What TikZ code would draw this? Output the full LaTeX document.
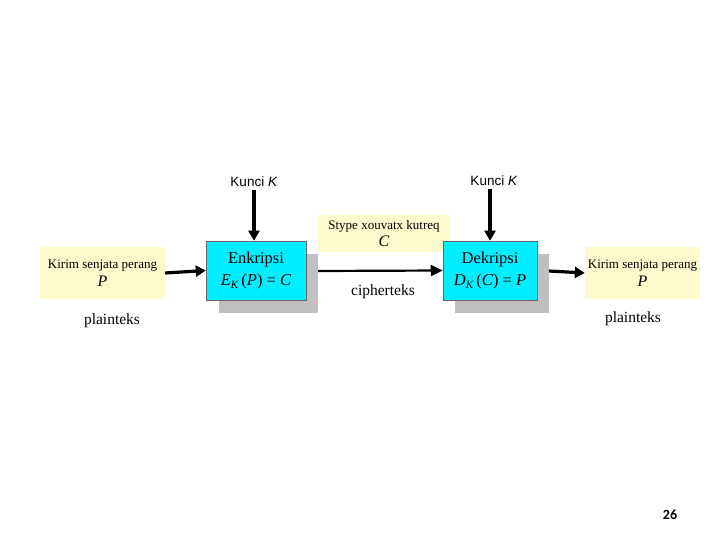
\documentclass[tikz,border=0pt]{standalone}
\usepackage{fontspec}
\setmainfont{Liberation Serif}
\newfontfamily\arialf{Liberation Sans}
\newfontfamily\calib{Carlito}
\usetikzlibrary{arrows.meta}
\definecolor{paleyel}{RGB}{255,250,205}
\definecolor{cyanbox}{RGB}{0,238,255}
\definecolor{shadowg}{RGB}{192,192,192}
\newcommand{\lowsub}[1]{\raisebox{-0.45ex}{\fontsize{11}{12}\selectfont\textit{#1}}}
\begin{document}
\begin{tikzpicture}[x=1pt,y=-1pt,
  yelbox/.style={fill=paleyel,draw=none,inner sep=0pt,align=center,font=\fontsize{13}{15}\selectfont},
  encbox/.style={fill=cyanbox,draw=black!60,line width=0.5pt,inner sep=0pt,align=center,font=\fontsize{16.5}{20}\selectfont},
  thickarr/.style={line width=3.2pt,-{Triangle[length=10pt,width=11pt]}},
  midarr/.style={line width=2.2pt,-{Triangle[length=12pt,width=11pt]}},
  lbl/.style={font=\fontsize{15.5}{18}\selectfont},
  keylbl/.style={font=\arialf\fontsize{13.5}{15}\selectfont}]
\useasboundingbox (0,0) rectangle (720,540);
% left input
\node[yelbox,minimum width=125pt,minimum height=52pt] (pin) at (102.5,273) {Kirim senjata perang\\[3pt]{\fontsize{16}{18}\selectfont\textit{P}}};
\node[lbl] (pl1) at (112,321) {plainteks};
% encryption
\fill[shadowg] (219,254) rectangle (318,313);
\node[encbox,minimum width=100pt,minimum height=59pt] (enc) at (256,270.5) {Enkripsi\\[2pt]\textit{E}\lowsub{K}\,(\textit{P}) = \textit{C}};
\node[keylbl] (k1) at (254,182) {Kunci \textit{K}};
% ciphertext box
\node[yelbox,minimum width=132pt,minimum height=37pt] (cbox) at (384,233.5) {Stype xouvatx kutreq\\[2pt]{\fontsize{16}{18}\selectfont\textit{C}}};
\node[lbl] (ct) at (383,292) {cipherteks};
% decryption
\fill[shadowg] (455,254) rectangle (549,313);
\node[encbox,minimum width=94pt,minimum height=59pt] (dec) at (490,270.5) {Dekripsi\\[2pt]\textit{D}\lowsub{K}\,(\textit{C}) = \textit{P}};
\node[keylbl] (k2) at (494,181) {Kunci \textit{K}};
% right output
\node[yelbox,minimum width=115pt,minimum height=52pt] (pout) at (642.5,273) {Kirim senjata perang\\[3pt]{\fontsize{16}{18}\selectfont\textit{P}}};
\node[lbl] (pl2) at (633,319) {plainteks};
% connectors
\coordinate (s1) at (318,271);
\coordinate (s2) at (549,271);
\draw[thickarr] (pin.east) -- (enc.west);
\draw[thickarr] (k1.south) -- (enc.north -| k1.south);
\draw[midarr] (s1) -- (dec.west);
\draw[thickarr] (k2.south -| dec.north) -- (dec.north);
\draw[thickarr] (s2) -- (pout.west);
% page number
\node[font=\calib\bfseries\fontsize{14}{16}\selectfont] (pg) at (670,515) {26};
\end{tikzpicture}
\end{document}
